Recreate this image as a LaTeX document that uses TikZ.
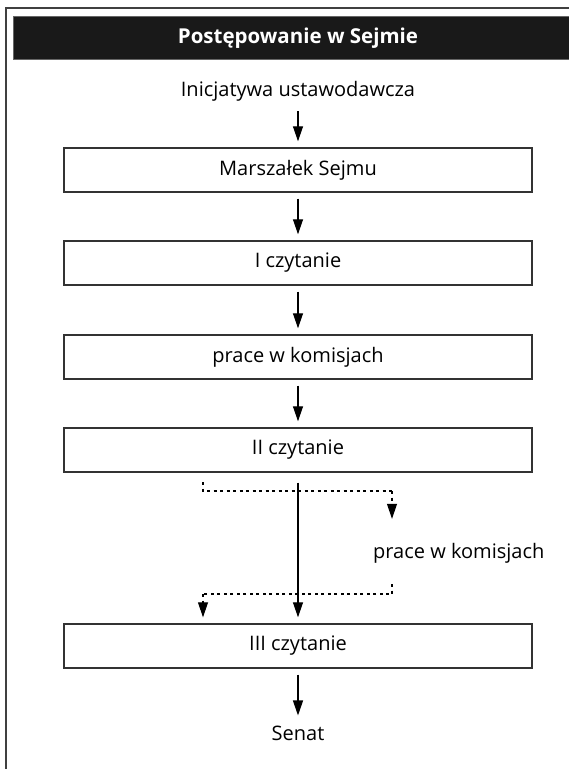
\documentclass[tikz,border=0pt]{standalone}
\usepackage{fontspec}
\setmainfont{Open Sans}
\usetikzlibrary{arrows.meta}

\tikzset{
  stage/.style={draw=black!80, line width=1.4pt, minimum width=468pt,
    minimum height=44pt, inner sep=0pt, font=\fontsize{20}{23}\selectfont},
  label/.style={inner sep=4pt, font=\fontsize{20}{23}\selectfont},
  flow/.style={-{Triangle[length=15pt,width=10pt]}, line width=1.2pt,
    shorten <=6pt, shorten >=6pt},
  sideflow/.style={line width=1.1pt, dash pattern=on 3pt off 3.5pt},
  sidetip/.style={sideflow, -{Triangle[length=15pt,width=10pt]}},
}

\begin{document}
\begin{tikzpicture}[x=1pt, y=-1pt]
  \useasboundingbox (0,0) rectangle (569,769);

  % Frame and title bar
  \draw[black!75, line width=2pt] (6,769) -- (6,8) -- (569,8);
  \filldraw[fill=black!90, draw=black!60, line width=0.8pt] (13,16) rectangle (570,59);
  \node[text=white, font=\bfseries\fontsize{20.5}{23}\selectfont] (title) at (298,38) {Postępowanie w Sejmie};

  % Start and end
  \node[label] (init) at (298,91) {Inicjatywa ustawodawcza};
  \node[label] (senat) at (298,733) {Senat};

  % Stages
  \foreach \n/\y/\t in {b1/170/Marszałek Sejmu, b2/263/I czytanie,
      b3/357/prace w komisjach, b4/450/II czytanie, b5/646/III czytanie} {
    \node[stage] (\n) at (298,\y) {\t};
  }

  % Arrows between stages
  \foreach \a/\b in {init/b1, b1/b2, b2/b3, b3/b4, b5/senat} {
    \draw[flow] (\a) -- (\b);
  }
  \draw[flow, shorten <=10pt] (b4) -- (b5);

  % Optional return to the committees
  \node[label, anchor=west, inner sep=0pt] (side) at (373,553) {prace w komisjach};
  \coordinate (tl) at (203,482);
  \coordinate (tr) at (392,491);
  \coordinate (br) at (392,584);
  \coordinate (bl) at (203,594);
  \draw[sideflow] (tl) -- (tl |- tr) -- (tr);
  \draw[sidetip] (tr) -- (tr |- side.north) [shorten >=24pt];
  \draw[sideflow] (br) -- (br |- bl) -- (bl);
  \draw[sidetip, shorten >=6pt] (bl) -- (bl |- b5.north);
\end{tikzpicture}
\end{document}
